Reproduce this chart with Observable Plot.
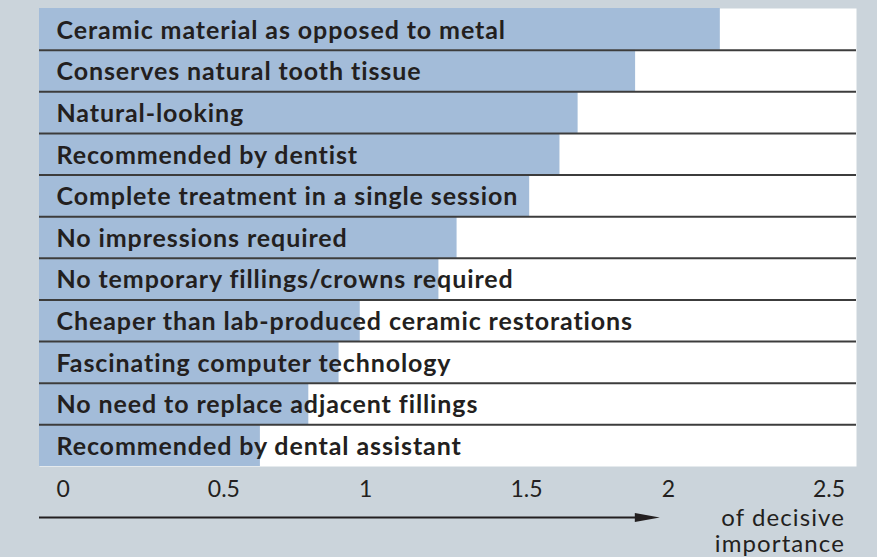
<!DOCTYPE html>
<html><head><meta charset="utf-8">
<script src="https://cdn.jsdelivr.net/npm/d3@7"></script>
<script src="https://cdn.jsdelivr.net/npm/@observablehq/plot@0.6"></script>
<style>
html,body{margin:0;padding:0;background:#cbd4db;}
#chart svg{display:block;}
#chart svg g[font-weight="bold"] text{letter-spacing:0.9px;}
#chart svg g[font-size="24"] text{letter-spacing:1.1px;}
</style></head><body><div id="chart"></div>
<script>
const categories = [
  "Ceramic material as opposed to metal",
  "Conserves natural tooth tissue",
  "Natural-looking",
  "Recommended by dentist",
  "Complete treatment in a single session",
  "No impressions required",
  "No temporary fillings/crowns required",
  "Cheaper than lab-produced ceramic restorations",
  "Fascinating computer technology",
  "No need to replace adjacent fillings",
  "Recommended by dental assistant"
];
const values = [2.25, 1.97, 1.78, 1.72, 1.62, 1.38, 1.32, 1.06, 0.99, 0.89, 0.73];
const tickValues = [0, 0.5, 1, 1.5, 2, 2.5];
const axisNote = "of decisive\nimportance";
const arrowEnd = 2.05;
const xMax = 2.7;

const rows = categories.map((c, i) => ({category: c, value: values[i], row: i}));
const ink = "#231f20";
const font = "Lato, 'Open Sans', sans-serif";

const arrowHead = {
  draw(context) {
    context.moveTo(0, 0);
    context.lineTo(-25, -4.5);
    context.lineTo(-25, 4.5);
    context.closePath();
  }
};

const chart = Plot.plot({
  width: 877,
  height: 557,
  marginLeft: 39,
  marginRight: 21,
  marginTop: 8,
  marginBottom: 91,
  style: {background: "#cbd4db", fontFamily: font, color: ink},
  x: {domain: [0, xMax], axis: null},
  y: {domain: [0, categories.length], reverse: true, axis: null},
  marks: [
    Plot.frame({fill: "white", stroke: "none"}),
    Plot.rect(rows, {x1: 0, x2: "value", y1: "row", y2: d => d.row + 1, fill: "#a3bcd9"}),
    Plot.ruleY(rows.slice(1), {y: "row", stroke: "#3c3c3c", strokeWidth: 2}),
    Plot.text(rows, {x: 0, y: d => d.row + 0.5, text: "category", textAnchor: "start", dx: 17, dy: 1.3,
      fontWeight: "bold", fontSize: 25, fill: ink}),
    Plot.text(tickValues, {x: d => d, y: categories.length, text: d => String(d), textAnchor: "start",
      dx: 17, dy: 23, fontSize: 23, fill: ink}),
    Plot.text([axisNote], {x: 2.5, y: categories.length, text: d => d, textAnchor: "end",
      dx: 49, dy: 64, lineHeight: 1.1, fontSize: 24, fill: ink}),
    Plot.ruleY([categories.length], {x1: 0, x2: arrowEnd - 0.05, dy: 51, stroke: ink, strokeWidth: 2.2}),
    Plot.dot([arrowEnd], {x: d => d, y: categories.length, dy: 51, symbol: arrowHead, fill: ink, stroke: "none"})
  ]
});
document.getElementById("chart").appendChild(chart);
</script>
</body></html>
